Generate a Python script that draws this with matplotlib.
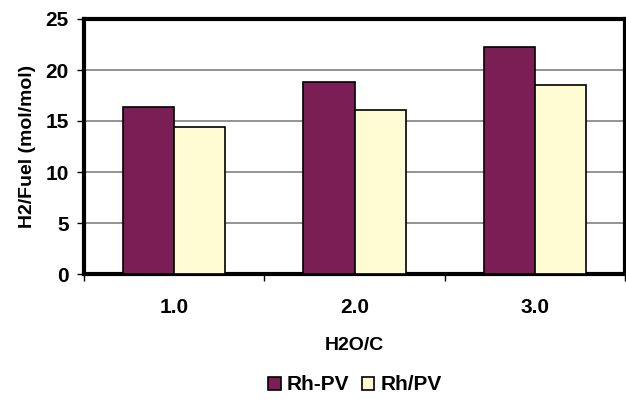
import matplotlib
matplotlib.use("Agg")
import matplotlib.pyplot as plt
import numpy as np

categories = ["1.0", "2.0", "3.0"]
series_names = ["Rh-PV", "Rh/PV"]
rh_pv = [16.4, 18.85, 22.3]
rh_slash_pv = [14.45, 16.1, 18.5]
colors = ["#7B1E55", "#FFFBD2"]

plt.rcParams['font.family'] = ['Liberation Sans', 'DejaVu Sans']
plt.rcParams['font.weight'] = 'bold'

fig = plt.figure(figsize=(6.26, 4.04), dpi=100)
ax = fig.add_axes([84/626, 1-274/404, (625-84)/626, (274-19)/404])

x = np.arange(len(categories))
w = 0.283
ax.bar(x - w/2, rh_pv, w, color=colors[0], edgecolor='black', linewidth=1.2, label=series_names[0], zorder=3)
ax.bar(x + w/2, rh_slash_pv, w, color=colors[1], edgecolor='black', linewidth=1.2, label=series_names[1], zorder=3)

ax.set_xlim(-0.5, 2.5)
ax.set_ylim(0, 25)
ax.set_yticks([0, 5, 10, 15, 20, 25])
ax.yaxis.grid(True, color='#808080', linewidth=1.2, zorder=0)
ax.set_xticks(x)
ax.set_xticklabels(categories, fontsize=15, fontweight='bold')
ax.tick_params(axis='x', length=0, pad=17)
ax.set_xticks([-0.5, 0.5, 1.5, 2.5], minor=True)
ax.tick_params(axis='x', which='minor', length=5, width=1, color='black', direction='out')
ax.tick_params(axis='y', length=5, width=1, labelsize=15, pad=6)
for lbl in ax.get_yticklabels():
    lbl.set_fontweight('bold')
for s in ax.spines.values():
    s.set_linewidth(3)
    s.set_color('black')

ax.set_xlabel("H2O/C", fontsize=14, fontweight='bold', labelpad=15)
ax.set_ylabel("H2/Fuel (mol/mol)", fontsize=14, fontweight='bold', labelpad=7)

fig.legend(loc='center', bbox_to_anchor=(355/626, 1-385/404), ncol=2, frameon=False,
           fontsize=15, handlelength=0.6, handleheight=0.6, handletextpad=0.3, columnspacing=0.6)

fig.savefig("out.png", dpi=100)
